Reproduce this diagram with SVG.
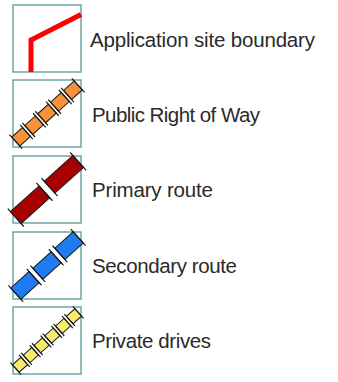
<svg xmlns="http://www.w3.org/2000/svg" width="338" height="382" viewBox="0 0 338 382">
  <style>
    .frame { fill: #ffffff; stroke: #6fa7a7; stroke-width: 1.5; }
    .label { font-family: "Liberation Sans", Arial, sans-serif; font-size: 20.5px; fill: #2a2a2a; }
    .seg { stroke: #1a1a1a; stroke-width: 1; }
    .tick { stroke: #1a1a1a; stroke-width: 1.2; }
  </style>
  <rect width="338" height="382" fill="#ffffff"/>

  <!-- Application site boundary -->
  <g id="site-boundary">
    <rect class="frame" x="13" y="5" width="68" height="67"/>
    <polyline points="31,72 31,40 81,14.5" fill="none" stroke="#ff0000" stroke-width="5"/>
    <text class="label" x="90" y="47" textLength="225">Application site boundary</text>
  </g>

  <!-- Public Right of Way: orange squares -->
  <g id="public-right-of-way">
    <rect class="frame" x="13" y="80" width="68" height="67"/>
    <g transform="translate(47 113.5) rotate(-42)">
      <rect class="seg" fill="#f7923a" x="-42" y="-6" width="14.4" height="12"/>
      <rect class="seg" fill="#f7923a" x="-24.6" y="-6" width="14.4" height="12"/>
      <rect class="seg" fill="#f7923a" x="-7.2" y="-6" width="14.4" height="12"/>
      <rect class="seg" fill="#f7923a" x="10.2" y="-6" width="14.4" height="12"/>
      <rect class="seg" fill="#f7923a" x="27.6" y="-6" width="14.4" height="12"/>
      <path class="tick" d="M-42 -9.5V9.5M-27.6 -9.5V9.5M-24.6 -9.5V9.5M-10.2 -9.5V9.5M-7.2 -9.5V9.5M7.2 -9.5V9.5M10.2 -9.5V9.5M24.6 -9.5V9.5M27.6 -9.5V9.5M42 -9.5V9.5"/>
    </g>
    <text class="label" x="92" y="122" textLength="168">Public Right of Way</text>
  </g>

  <!-- Primary route: dark red, two segments -->
  <g id="primary-route">
    <rect class="frame" x="13" y="156" width="68" height="67"/>
    <g transform="translate(47 189.5) rotate(-42)">
      <rect class="seg" fill="#a80000" x="-42" y="-8" width="38.5" height="16"/>
      <rect class="seg" fill="#a80000" x="3.5" y="-8" width="38.5" height="16"/>
      <path class="tick" d="M-42 -12V12M-3.5 -12V12M3.5 -12V12M42 -12V12"/>
    </g>
    <text class="label" x="92" y="197" textLength="121">Primary route</text>
  </g>

  <!-- Secondary route: blue, three segments -->
  <g id="secondary-route">
    <rect class="frame" x="13" y="232" width="68" height="67"/>
    <g transform="translate(47 265.5) rotate(-42)">
      <rect class="seg" fill="#1f7cf0" x="-42" y="-7.5" width="24.67" height="15"/>
      <rect class="seg" fill="#1f7cf0" x="-12.33" y="-7.5" width="24.67" height="15"/>
      <rect class="seg" fill="#1f7cf0" x="17.33" y="-7.5" width="24.67" height="15"/>
      <path class="tick" d="M-42 -11V11M-17.33 -11V11M-12.33 -11V11M12.33 -11V11M17.33 -11V11M42 -11V11"/>
    </g>
    <text class="label" x="92" y="273" textLength="145">Secondary route</text>
  </g>

  <!-- Private drives: yellow, six segments -->
  <g id="private-drives">
    <rect class="frame" x="13" y="307" width="68" height="67"/>
    <g transform="translate(47 340.5) rotate(-42)">
      <rect class="seg" fill="#f4ec6a" x="-42" y="-5" width="11.5" height="10"/>
      <rect class="seg" fill="#f4ec6a" x="-27.5" y="-5" width="11.5" height="10"/>
      <rect class="seg" fill="#f4ec6a" x="-13" y="-5" width="11.5" height="10"/>
      <rect class="seg" fill="#f4ec6a" x="1.5" y="-5" width="11.5" height="10"/>
      <rect class="seg" fill="#f4ec6a" x="16" y="-5" width="11.5" height="10"/>
      <rect class="seg" fill="#f4ec6a" x="30.5" y="-5" width="11.5" height="10"/>
      <path class="tick" d="M-42 -8V8M-30.5 -8V8M-27.5 -8V8M-16 -8V8M-13 -8V8M-1.5 -8V8M1.5 -8V8M13 -8V8M16 -8V8M27.5 -8V8M30.5 -8V8M42 -8V8"/>
    </g>
    <text class="label" x="92" y="348" textLength="119">Private drives</text>
  </g>
</svg>
